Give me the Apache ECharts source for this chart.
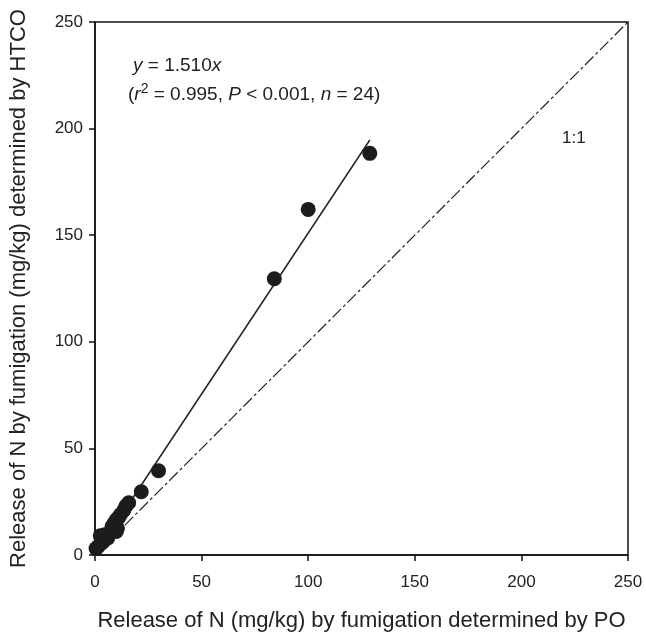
<!DOCTYPE html>
<html>
<head>
<meta charset="utf-8">
<script src="https://cdn.jsdelivr.net/npm/echarts@6/dist/echarts.min.js"></script>
<style>
html,body{margin:0;padding:0;background:#fff;}
#chart{width:646px;height:632px;}
</style>
</head>
<body>
<div id="chart"></div>
<script>
// Data
const poValues = [128.9, 100.0, 84.1, 29.8, 21.7, 15.8,
  0.5, 1.5, 3.0, 4.0, 2.5, 4.5, 6.0, 6.5, 8.0, 10.0, 10.5, 8.0, 9.0, 10.0, 11.0, 12.0, 14.5, 13.5];
const htcoValues = [188.4, 162.1, 129.6, 39.5, 29.7, 24.5,
  3.0, 4.0, 5.5, 6.5, 9.0, 9.5, 8.0, 10.0, 11.0, 11.0, 12.5, 13.5, 15.0, 16.5, 17.5, 19.0, 23.0, 21.0];
const fitSlope = 1.510;
const fitXRange = [0, 128.9];
const oneToOne = [0, 250];
const xTicks = [0, 50, 100, 150, 200, 250];
const yTicks = [0, 50, 100, 150, 200, 250];

const points = poValues.map((v, i) => [v, htcoValues[i]]);
const fitLine = fitXRange.map(x => [x, fitSlope * x]);
const identityLine = oneToOne.map(v => [v, v]);

const FONT = 'Liberation Sans, Arial, sans-serif';
const chart = echarts.init(document.getElementById('chart'), null, {renderer: 'canvas'});

const axisCommon = {
  type: 'value',
  min: xTicks[0],
  max: xTicks[xTicks.length - 1],
  interval: 50,
  splitLine: {show: false},
  axisLine: {show: true, lineStyle: {color: '#111', width: 1.5}},
  axisTick: {show: true, inside: false, length: 6, lineStyle: {color: '#111', width: 1.5}},
  nameLocation: 'middle',
  nameTextStyle: {fontFamily: FONT, fontSize: 22, color: '#222'}
};

chart.setOption({
  animation: false,
  backgroundColor: '#fff',
  grid: {left: 95, top: 22, right: 18, bottom: 77, outerBoundsMode: 'none', containLabel: false,
    show: true, borderColor: '#111', borderWidth: 1.5, backgroundColor: 'transparent'},
  xAxis: Object.assign({}, axisCommon, {
    name: 'Release of N (mg/kg) by fumigation determined by PO',
    nameGap: 55,
    axisLabel: {fontFamily: FONT, fontSize: 17, color: '#222', margin: 19}
  }),
  yAxis: Object.assign({}, axisCommon, {
    min: yTicks[0],
    max: yTicks[yTicks.length - 1],
    name: 'Release of N by fumigation (mg/kg) determined by HTCO',
    nameGap: 65,
    axisLabel: {fontFamily: FONT, fontSize: 17, color: '#222', margin: 12}
  }),
  series: [
    {
      type: 'line', data: identityLine, symbol: 'none', z: 2,
      lineStyle: {color: '#222', width: 1.2, type: [12, 3, 3, 3]}
    },
    {
      type: 'line', data: fitLine, symbol: 'none', z: 3,
      lineStyle: {color: '#222', width: 1.5}
    },
    {
      type: 'scatter', data: points, symbol: 'circle', symbolSize: 15, z: 5,
      itemStyle: {color: '#1c1c1c', opacity: 1}
    }
  ],
  graphic: [
    {
      type: 'text', left: 133, top: 56, z: 10,
      style: {
        text: '{i|y} = 1.510{i|x}',
        fontFamily: FONT, fontSize: 19, fill: '#222',
        rich: {i: {fontStyle: 'italic', fontFamily: FONT, fontSize: 19, fill: '#222'}}
      }
    },
    {
      type: 'text', left: 128, top: 82, z: 10,
      style: {
        text: '({i|r}{s|2} = 0.995, {i|P} < 0.001, {i|n} = 24)',
        fontFamily: FONT, fontSize: 19, fill: '#222',
        rich: {
          i: {fontStyle: 'italic', fontFamily: FONT, fontSize: 19, fill: '#222'},
          s: {fontFamily: FONT, fontSize: 14, fill: '#222', padding: [0, 0, 11, 0]}
        }
      }
    },
    {
      type: 'text', left: 562, top: 130, z: 10,
      style: {text: '1:1', fontFamily: FONT, fontSize: 17, fill: '#222'}
    }
  ]
});
</script>
</body>
</html>
